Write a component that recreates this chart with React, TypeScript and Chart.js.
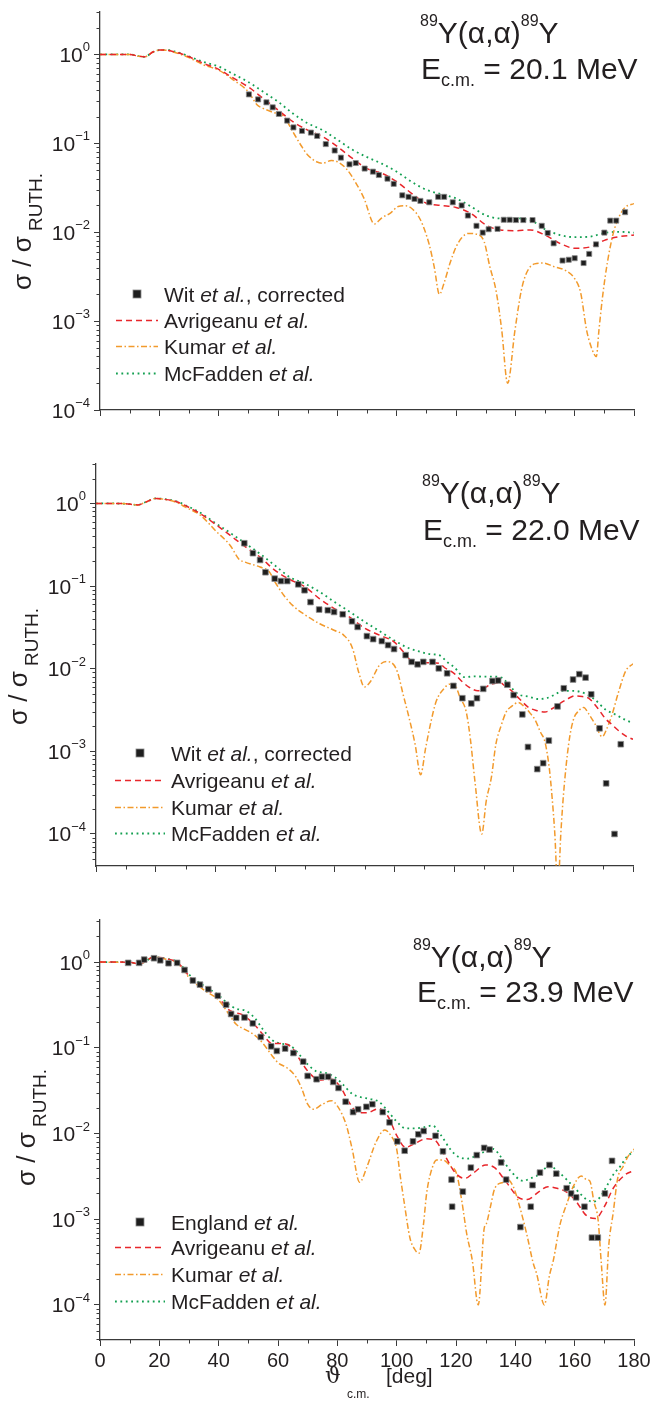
import React, { useEffect, useRef } from 'react';
import { Chart, registerables } from 'chart.js';

Chart.register(...registerables);

const FONT = '"Liberation Sans", Arial, Helvetica, "DejaVu Sans", sans-serif';
const INK = '#231f20';
const AXIS = '#3a3a3a';
const RED = '#e8262b';
const ORANGE = '#f29a2c';
const GREEN = '#14a052';

// ---------------- Panel 1 : E(c.m.) = 20.1 MeV ----------------
const p1ExpAngles = [50.2, 53.3, 56.1, 58.2, 60.3, 63.1, 65.2, 68.1, 71.1, 73.2,
  76.1, 79.1, 81.2, 84.1, 86.2, 89.2, 92.0, 94.0, 96.9, 99.0,
  101.9, 104.0, 106.0, 108.0, 111.0, 114.0, 116.0, 118.9, 121.9, 124.0,
  126.9, 129.0, 131.0, 134.0, 136.1, 138.1, 140.2, 142.7, 145.8, 148.9,
  150.9, 152.9, 155.9, 158.0, 160.0, 163.0, 164.9, 167.2, 170.0, 172.0,
  174.0, 177.0];
const p1ExpValues = [0.355, 0.312, 0.289, 0.254, 0.214, 0.180, 0.151, 0.138, 0.132, 0.121,
  0.098, 0.083, 0.069, 0.058, 0.060, 0.052, 0.048, 0.044, 0.040, 0.035,
  0.026, 0.025, 0.0237, 0.0225, 0.0217, 0.025, 0.025, 0.0217, 0.020, 0.0154,
  0.0118, 0.0099, 0.0108, 0.0109, 0.0138, 0.0138, 0.0137, 0.0137, 0.0137, 0.0118,
  0.0098, 0.0075, 0.0048, 0.0049, 0.0051, 0.0045, 0.0057, 0.0073, 0.0099, 0.0135,
  0.0135, 0.0168];
const p1CurveAngles = [0, 5, 10, 13, 15, 18, 20, 23, 25, 28,
  30, 35, 40, 45, 50, 55, 60, 65, 70, 75,
  80, 85, 90, 95, 100, 105, 110, 115, 120, 125,
  130, 135, 140, 145, 150, 155, 160, 165, 170, 175,
  180];
const p1AvrValues = [1, 1, 1, 0.955, 0.94, 1.07, 1.12, 1.11, 1.07, 1.0,
  0.94, 0.79, 0.68, 0.54, 0.43, 0.32, 0.237, 0.175, 0.141, 0.119,
  0.092, 0.068, 0.052, 0.046, 0.037, 0.0274, 0.0212, 0.020, 0.019, 0.0163,
  0.0121, 0.0106, 0.0104, 0.0106, 0.0093, 0.0075, 0.0066, 0.0068, 0.0081, 0.0089,
  0.0093];
const p1McfValues = [1, 1, 1, 0.955, 0.94, 1.07, 1.12, 1.12, 1.08, 1.01,
  0.95, 0.82, 0.73, 0.60, 0.49, 0.38, 0.294, 0.217, 0.168, 0.141,
  0.110, 0.085, 0.070, 0.059, 0.048, 0.037, 0.030, 0.0268, 0.024, 0.0195,
  0.0155, 0.0143, 0.0143, 0.0137, 0.0108, 0.0093, 0.0088, 0.0089, 0.0098, 0.0101,
  0.0099];
const p1KumAngles = [0, 5, 10, 13, 15, 18, 20, 23, 25, 28,
  30, 35, 40, 45, 50, 53, 55, 58, 62, 65,
  68, 70, 73, 75, 78, 80, 83, 86, 89, 92.5,
  95, 98, 100.5, 103, 105, 108, 111, 112.7, 114.4, 116,
  118, 120, 122, 124.1, 127, 129.5, 131.4, 133.5, 135.4, 137.4,
  139.9, 142, 143.8, 146.5, 149.4, 153, 157, 160, 162, 164,
  165.5, 167.3, 168.2, 169.5, 171, 173, 175, 177, 180];
const p1KumValues = [1, 1, 1, 0.955, 0.94, 1.07, 1.12, 1.11, 1.06, 0.98,
  0.92, 0.76, 0.667, 0.515, 0.38, 0.27, 0.247, 0.225, 0.20, 0.135,
  0.092, 0.074, 0.062, 0.0596, 0.064, 0.062, 0.052, 0.037, 0.024, 0.0124,
  0.0145, 0.0165, 0.0195, 0.0198, 0.0186, 0.0138, 0.0072, 0.0040, 0.0020, 0.0027,
  0.0045, 0.0068, 0.0087, 0.0097, 0.0095, 0.0078, 0.0041, 0.0022, 0.0008, 0.0002,
  0.0008, 0.0022, 0.0035, 0.0044, 0.0045, 0.0041, 0.0037, 0.0030, 0.0021, 0.0008,
  0.00052, 0.0004, 0.0008, 0.002, 0.0045, 0.0097, 0.015, 0.019, 0.021];

// ---------------- Panel 2 : E(c.m.) = 22.0 MeV ----------------
const p2ExpAngles = [49.7, 52.6, 55.0, 56.8, 59.9, 62.0, 64.1, 67.8, 69.9, 71.9,
  74.8, 77.7, 79.8, 82.7, 85.8, 87.7, 90.8, 92.9, 95.8, 97.9,
  99.9, 103.8, 105.8, 107.8, 109.7, 112.8, 114.9, 117.7, 119.8, 122.8,
  125.8, 127.7, 129.8, 132.9, 134.8, 137.9, 140.0, 142.9, 144.8, 147.9,
  149.9, 151.8, 154.7, 156.8, 159.9, 162.0, 164.1, 166.0, 168.8, 171.0,
  173.8, 175.9];
const p2ExpValues = [0.33, 0.25, 0.207, 0.147, 0.123, 0.115, 0.115, 0.105, 0.089, 0.064,
  0.052, 0.051, 0.0486, 0.0456, 0.0375, 0.032, 0.0248, 0.0228, 0.0216, 0.0193,
  0.0173, 0.0146, 0.0121, 0.0113, 0.0121, 0.0121, 0.0101, 0.0088, 0.0062, 0.0044,
  0.0038, 0.0044, 0.0057, 0.0071, 0.0072, 0.0064, 0.0048, 0.0028, 0.00113, 0.00061,
  0.00072, 0.00135, 0.0035, 0.0058, 0.0074, 0.0086, 0.0078, 0.0049, 0.0019, 0.00041,
  0.0001, 0.00122];
const p2AvrAngles = [0, 5, 10, 14, 17, 20, 23, 27, 30, 35,
  40, 45, 50, 55, 60, 65, 70, 75, 80, 85,
  90, 95, 100, 103.4, 106.7, 110, 112.3, 115, 117, 120,
  122.5, 125, 128, 130, 132.6, 135.4, 137, 139.3, 142, 145,
  148, 150.5, 153, 155, 158, 160.6, 163, 165.1, 168, 170.7,
  173, 175, 178, 180];
const p2AvrValues = [1, 1, 0.99, 0.96, 1.05, 1.15, 1.12, 1.05, 0.94, 0.75,
  0.56, 0.41, 0.30, 0.224, 0.155, 0.12, 0.098, 0.070, 0.053, 0.042,
  0.031, 0.0255, 0.021, 0.0155, 0.0118, 0.0118, 0.0118, 0.0116, 0.0102, 0.0088,
  0.0071, 0.0060, 0.0054, 0.0058, 0.0065, 0.0068, 0.0062, 0.0054, 0.0043, 0.0034,
  0.0031, 0.0030, 0.0033, 0.0037, 0.0043, 0.0047, 0.0046, 0.0044, 0.0034, 0.0025,
  0.0021, 0.0018, 0.0015, 0.0014];
const p2McfAngles = [0, 5, 10, 14, 17, 20, 23, 27, 30, 35,
  40, 45, 50, 55, 60, 65, 70, 75, 80, 85,
  90, 94.4, 100, 105, 108, 112, 115, 118, 120, 123.6,
  127, 130, 133.7, 136, 139, 141.6, 145, 148.3, 151, 154,
  156.2, 160, 164, 167, 170.8, 174, 177.5, 180];
const p2McfValues = [1, 1, 0.99, 0.96, 1.05, 1.15, 1.13, 1.06, 0.95, 0.77,
  0.58, 0.44, 0.33, 0.245, 0.177, 0.128, 0.107, 0.085, 0.064, 0.049,
  0.037, 0.0295, 0.022, 0.0176, 0.0163, 0.015, 0.0146, 0.0118, 0.0105, 0.0079,
  0.0081, 0.0080, 0.0080, 0.0078, 0.0060, 0.0049, 0.0046, 0.0043, 0.0044, 0.0049,
  0.0054, 0.0054, 0.0050, 0.0043, 0.0032, 0.0028, 0.0024, 0.0022];
const p2KumAngles = [0, 5, 10, 14, 17, 20, 23, 27, 30, 35,
  40, 45, 48, 50, 55, 58, 60, 63, 66, 70,
  75, 80, 83, 86, 88, 90, 92, 95, 97.5, 99,
  101, 103, 105, 107, 108.8, 110.5, 112.3, 114, 116.9, 118.5,
  120.2, 122, 124.1, 125.5, 127, 129.3, 130.8, 132.6, 134, 135.9,
  137.5, 139.3, 141.5, 143.8, 145.5, 147.2, 149, 150.5, 152, 152.8,
  153.8, 154.8, 155.8, 156.7, 158.4, 160, 161.8, 163.5, 165, 167.4,
  169.7, 171, 173, 175, 177.5, 180];
const p2KumValues = [1, 1, 0.99, 0.96, 1.05, 1.15, 1.12, 1.03, 0.9, 0.72,
  0.47, 0.31, 0.21, 0.195, 0.17, 0.15, 0.112, 0.077, 0.058, 0.045,
  0.035, 0.029, 0.0255, 0.0176, 0.0092, 0.0060, 0.0070, 0.011, 0.0122, 0.0119,
  0.0092, 0.0048, 0.0025, 0.0012, 0.00052, 0.0011, 0.0023, 0.0040, 0.0059, 0.0065,
  0.0064, 0.0045, 0.0030, 0.0014, 0.00044, 0.0001, 0.00025, 0.0005, 0.0012, 0.0021,
  0.0030, 0.0035, 0.0039, 0.0034, 0.0029, 0.0024, 0.0017, 0.0013, 0.0006, 0.0003,
  0.0001, 0.00002, 0.0001, 0.0003, 0.0012, 0.0024, 0.0031, 0.0034, 0.0029, 0.0021,
  0.0015, 0.0018, 0.0028, 0.0050, 0.0093, 0.0115];

// ---------------- Panel 3 : E(c.m.) = 23.9 MeV ----------------
const p3ExpAngles = [9.5, 13.2, 14.9, 18.2, 20.3, 23.1, 26.0, 28.5, 31.3, 33.7,
  36.5, 39.7, 42.5, 44.2, 45.9, 48.7, 51.5, 54.2, 57.7, 59.6,
  62.4, 65.2, 68.5, 70.0, 73.0, 74.8, 76.9, 78.6, 80.4, 82.8,
  85.3, 87.0, 89.8, 91.8, 95.3, 97.6, 100.2, 102.7, 105.5, 107.3,
  109.1, 113.1, 115.6, 118.5, 118.7, 122.3, 125.0, 127.0, 129.5, 131.3,
  135.2, 136.9, 141.7, 145.2, 145.8, 148.3, 151.5, 153.8, 157.3, 158.8,
  160.5, 163.3, 165.8, 167.8, 170.2, 172.6];
const p3ExpValues = [0.98, 0.98, 1.07, 1.11, 1.05, 0.97, 0.98, 0.81, 0.61, 0.546,
  0.484, 0.405, 0.318, 0.248, 0.224, 0.226, 0.193, 0.134, 0.104, 0.092,
  0.098, 0.087, 0.069, 0.047, 0.043, 0.046, 0.046, 0.040, 0.034, 0.0235,
  0.0178, 0.0192, 0.0205, 0.022, 0.0178, 0.0135, 0.0081, 0.0063, 0.0081, 0.0098,
  0.0107, 0.0094, 0.0062, 0.0029, 0.0014, 0.0021, 0.0040, 0.0056, 0.0068, 0.0065,
  0.0046, 0.0029, 0.00081, 0.0014, 0.0025, 0.0035, 0.0043, 0.0034, 0.0023, 0.0020,
  0.0018, 0.0014, 0.00061, 0.00061, 0.0020, 0.0048];
const p3AvrAngles = [0, 5, 10, 13, 15, 18, 20, 22, 26, 28,
  30, 35, 40, 43, 45, 48, 52, 55, 58, 62,
  65, 68, 71, 74, 78, 81, 84, 87, 90, 94,
  97, 100, 103, 106, 110, 113, 116, 120, 123, 126,
  130, 133, 137, 141, 144, 148, 151, 154, 157, 160,
  164, 167, 170, 173, 177, 180];
const p3AvrValues = [1, 1, 0.995, 0.955, 1.0, 1.15, 1.13, 1.10, 1.0, 0.85,
  0.69, 0.50, 0.387, 0.285, 0.26, 0.243, 0.187, 0.142, 0.112, 0.112,
  0.098, 0.067, 0.049, 0.042, 0.043, 0.035, 0.023, 0.0175, 0.0175, 0.0195,
  0.016, 0.0095, 0.0069, 0.0076, 0.0087, 0.0083, 0.0057, 0.0034, 0.0030, 0.0035,
  0.0043, 0.0040, 0.0027, 0.0018, 0.0017, 0.0021, 0.0024, 0.0023, 0.0021, 0.0017,
  0.0011, 0.00102, 0.0014, 0.0023, 0.0033, 0.0037];
const p3McfAngles = [0, 5, 10, 13, 15, 18, 20, 22, 26, 28,
  30, 35, 40, 43, 46, 49, 52, 55, 58, 61,
  64, 67, 70, 73, 76, 79, 82, 85, 88, 91,
  94, 97, 100, 103, 106, 109, 112, 115, 118, 121,
  124, 128, 132.6, 135, 138.3, 142.7, 145, 147.2, 151.7, 154,
  157.3, 161.8, 164, 166.3, 168.5, 171, 173, 175.5, 177.5, 180];
const p3McfValues = [1, 1, 0.995, 0.96, 1.0, 1.15, 1.13, 1.10, 1.01, 0.87,
  0.72, 0.53, 0.41, 0.33, 0.285, 0.272, 0.226, 0.163, 0.123, 0.112,
  0.107, 0.085, 0.064, 0.053, 0.051, 0.046, 0.037, 0.029, 0.0265, 0.0253,
  0.0235, 0.0183, 0.0138, 0.0115, 0.0115, 0.0118, 0.0124, 0.0095, 0.0066, 0.0053,
  0.0051, 0.0058, 0.0066, 0.0054, 0.0037, 0.0028, 0.0030, 0.0032, 0.0042, 0.0037,
  0.0029, 0.0020, 0.0017, 0.0016, 0.0018, 0.0025, 0.0033, 0.0042, 0.0053, 0.0062];
const p3KumAngles = [0, 10, 13, 15, 18, 20, 22, 26, 28, 30,
  35, 40, 43, 46, 49, 52, 55, 58, 60, 63,
  66, 68, 70, 72, 75, 78, 80, 83, 85, 87.5,
  90, 93, 96, 98, 100, 101.1, 102.5, 104.5, 106, 107.5,
  109, 110.1, 111.5, 113.5, 115.7, 118, 120.2, 122, 123.6, 125.5,
  127.5, 129.5, 130.3, 131.5, 133.1, 135.9, 137.5, 139.3, 141, 143.8,
  146, 147.2, 149.8, 151.5, 152.8, 155, 157.3, 159.5, 162.2, 164,
  165.1, 166.5, 167.9, 169, 170.2, 171.5, 173, 174.5, 176.3, 178,
  180];
const p3KumValues = [1, 0.99, 0.955, 1.0, 1.15, 1.12, 1.09, 0.98, 0.82, 0.66,
  0.475, 0.36, 0.26, 0.187, 0.163, 0.142, 0.112, 0.081, 0.067, 0.0585,
  0.046, 0.0335, 0.022, 0.0192, 0.022, 0.0242, 0.021, 0.0126, 0.0066, 0.0027,
  0.0041, 0.0079, 0.011, 0.0095, 0.0066, 0.0034, 0.0016, 0.0006, 0.00045, 0.0004,
  0.00085, 0.002, 0.0035, 0.0049, 0.0049, 0.0042, 0.0034, 0.0016, 0.00068, 0.00033,
  0.0001, 0.00078, 0.0009, 0.00135, 0.0023, 0.0027, 0.0029, 0.0024, 0.0016, 0.00068,
  0.00031, 0.00023, 0.0001, 0.00022, 0.00033, 0.00085, 0.0015, 0.0024, 0.0032, 0.0029,
  0.0028, 0.0016, 0.00098, 0.0003, 0.0001, 0.0005, 0.0012, 0.003, 0.0041, 0.0054,
  0.0066];

// ---------------- labels & ticks ----------------
const energies = ['20.1', '22.0', '23.9'];
const expNames = ['Wit', 'Wit', 'England'];
const expSuffix = [', corrected', ', corrected', ''];
const modelNames = ['Avrigeanu', 'Kumar', 'McFadden'];
const xTickValues = [0, 20, 40, 60, 80, 100, 120, 140, 160, 180];
const xMinorTickValues = [10, 30, 50, 70, 90, 110, 130, 150, 170];
const yTickExponents = [0, -1, -2, -3, -4];

// ---------------- layout (page coordinates) ----------------
const LAYOUT = [
  { top: 0, height: 440, chartTop: 12, chartBottom: 410, left: 100, right: 634, yMin: 1e-4, yMax: 3,
    xLabels: false, xAxisH: 6, t1: [420, 43], t2: [421, 79], yTitle: [31, 290],
    legRows: [294, 320, 346, 373], legSym: 137, legLine: [116, 158], legText: 164, marker: 3.6 },
  { top: 440, height: 450, chartTop: 464, chartBottom: 866, left: 96, right: 633, yMin: 4.1e-5, yMax: 3,
    xLabels: false, xAxisH: 6, t1: [422, 503], t2: [423, 540], yTitle: [27, 725],
    legRows: [753, 780, 807, 833], legSym: 140, legLine: [115, 165], legText: 171, marker: 4 },
  { top: 890, height: 526, chartTop: 920, chartBottom: 1340, left: 100, right: 634, yMin: 3.9e-5, yMax: 3.1,
    xLabels: true, xAxisH: 40, t1: [413, 967], t2: [417, 1002], yTitle: [35, 1186],
    legRows: [1222, 1247, 1274, 1301], legSym: 140, legLine: [115, 165], legText: 171, marker: 4 },
];

const SERIES = [
  { exp: [p1ExpAngles, p1ExpValues], avr: [p1CurveAngles, p1AvrValues], kum: [p1KumAngles, p1KumValues], mcf: [p1CurveAngles, p1McfValues] },
  { exp: [p2ExpAngles, p2ExpValues], avr: [p2AvrAngles, p2AvrValues], kum: [p2KumAngles, p2KumValues], mcf: [p2McfAngles, p2McfValues] },
  { exp: [p3ExpAngles, p3ExpValues], avr: [p3AvrAngles, p3AvrValues], kum: [p3KumAngles, p3KumValues], mcf: [p3McfAngles, p3McfValues] },
];

const DASH_AVR = [6, 4];
const DASH_KUM = [6, 2.5, 1.5, 2.5];
const DASH_MCF = [1.8, 3.6];

function toPoints(xs: number[], ys: number[]) {
  return xs.map((x, i) => ({ x, y: ys[i] }));
}

type Part = { t: string; s: number; dy?: number; it?: boolean; fam?: string };

function setFont(ctx: CanvasRenderingContext2D, p: Part) {
  ctx.font = `${p.it ? 'italic ' : ''}${p.s}px ${p.fam || FONT}`;
}
function partsWidth(ctx: CanvasRenderingContext2D, parts: Part[]) {
  let w = 0;
  for (const p of parts) { setFont(ctx, p); w += ctx.measureText(p.t).width; }
  return w;
}
function drawParts(ctx: CanvasRenderingContext2D, x: number, y: number, parts: Part[]) {
  let cx = x;
  for (const p of parts) {
    setFont(ctx, p);
    ctx.fillText(p.t, cx, y + (p.dy || 0));
    cx += ctx.measureText(p.t).width;
  }
  return cx;
}

function makeDecor(i: number) {
  const L = LAYOUT[i];
  return {
    id: 'decor' + i,
    afterDraw(chart: any) {
      const ctx: CanvasRenderingContext2D = chart.ctx;
      const xs = chart.scales.x;
      const ys = chart.scales.y;
      const area = chart.chartArea;
      const oy = L.top;
      ctx.save();
      // minor ticks
      ctx.setLineDash([]);
      ctx.strokeStyle = AXIS;
      ctx.lineWidth = 1;
      ctx.beginPath();
      for (const a of xMinorTickValues) {
        const px = Math.round(xs.getPixelForValue(a)) + 0.5;
        ctx.moveTo(px, area.bottom);
        ctx.lineTo(px, area.bottom + 3.5);
      }
      const eMin = Math.floor(Math.log10(L.yMin));
      const eMax = Math.ceil(Math.log10(L.yMax));
      for (let e = eMin; e <= eMax; e++) {
        for (let m = 2; m <= 9; m++) {
          const v = m * Math.pow(10, e);
          if (v < L.yMin || v > L.yMax * 1.0001) continue;
          const py = Math.round(ys.getPixelForValue(v)) + 0.5;
          ctx.moveTo(area.left - 3.5, py);
          ctx.lineTo(area.left, py);
        }
      }
      ctx.stroke();

      ctx.fillStyle = INK;
      ctx.textAlign = 'left';
      ctx.textBaseline = 'alphabetic';

      // y tick labels 10^n
      for (const e of yTickExponents) {
        const v = Math.pow(10, e);
        if (v < L.yMin * 0.999 || v > L.yMax) continue;
        const py = ys.getPixelForValue(v);
        const parts: Part[] = [
          { t: '10', s: 21, dy: 7.5 },
          { t: e === 0 ? '0' : '\u2212' + String(-e), s: 13, dy: -3 },
        ];
        const w = partsWidth(ctx, parts);
        drawParts(ctx, area.left - 10 - w, py, parts);
      }

      // y axis title (rotated)
      ctx.save();
      ctx.translate(L.yTitle[0], L.yTitle[1] - oy);
      ctx.rotate(-Math.PI / 2);
      drawParts(ctx, 0, 0, [
        { t: '\u03c3 / \u03c3', s: 26 },
        { t: ' RUTH.', s: 19, dy: 10.5 },
      ]);
      ctx.restore();

      // panel title
      drawParts(ctx, L.t1[0], L.t1[1] - oy, [
        { t: '89', s: 16, dy: -17 },
        { t: 'Y(\u03b1,\u03b1)', s: 30 },
        { t: '89', s: 16, dy: -17 },
        { t: 'Y', s: 30 },
      ]);
      drawParts(ctx, L.t2[0], L.t2[1] - oy, [
        { t: 'E', s: 30 },
        { t: 'c.m.', s: 18, dy: 7 },
        { t: ' = ' + energies[i] + ' MeV', s: 30 },
      ]);

      // legend
      const rows = L.legRows.map((r) => r - oy);
      ctx.fillStyle = '#1e1e1e';
      ctx.fillRect(L.legSym - 4, rows[0] - 4, 8, 8);
      ctx.strokeStyle = '#8a8a8a';
      ctx.lineWidth = 0.8;
      ctx.strokeRect(L.legSym - 4, rows[0] - 4, 8, 8);
      const lineStyles = [
        { c: RED, d: DASH_AVR, w: 1.5 },
        { c: ORANGE, d: DASH_KUM, w: 1.5 },
        { c: GREEN, d: DASH_MCF, w: 1.8 },
      ];
      lineStyles.forEach((st, k) => {
        ctx.beginPath();
        ctx.setLineDash(st.d);
        ctx.strokeStyle = st.c;
        ctx.lineWidth = st.w;
        ctx.moveTo(L.legLine[0], rows[k + 1] + 0.5);
        ctx.lineTo(L.legLine[1], rows[k + 1] + 0.5);
        ctx.stroke();
      });
      ctx.setLineDash([]);
      ctx.fillStyle = INK;
      const expParts: Part[] = [{ t: expNames[i] + ' ', s: 21 }, { t: 'et al.', s: 21, it: true }];
      if (expSuffix[i]) expParts.push({ t: expSuffix[i], s: 21 });
      drawParts(ctx, L.legText, rows[0] + 7.5, expParts);
      modelNames.forEach((n, k) => {
        drawParts(ctx, L.legText, rows[k + 1] + 7.5, [{ t: n + ' ', s: 21 }, { t: 'et al.', s: 21, it: true }]);
      });

      // x axis title (bottom panel)
      if (L.xLabels) {
        drawParts(ctx, 325, 1383 - oy, [{ t: '\u03d1', s: 22, fam: '"DejaVu Serif", "DejaVu Sans", serif' }]);
        drawParts(ctx, 347, 1398 - oy, [{ t: 'c.m.', s: 12 }]);
        drawParts(ctx, 386, 1383 - oy, [{ t: '[deg]', s: 21 }]);
      }
      ctx.restore();
    },
  };
}

function buildConfig(i: number): any {
  const L = LAYOUT[i];
  const S = SERIES[i];
  const lineBase = { pointRadius: 0, pointHoverRadius: 0, fill: false, cubicInterpolationMode: 'monotone', borderCapStyle: 'butt' };
  return {
    type: 'line',
    data: {
      datasets: [
        {
          label: expNames[i] + ' et al.' + expSuffix[i],
          data: toPoints(S.exp[0], S.exp[1]),
          showLine: false,
          pointStyle: 'rect',
          pointRadius: L.marker,
          pointHoverRadius: L.marker,
          pointBackgroundColor: '#1e1e1e',
          pointBorderColor: '#8a8a8a',
          pointBorderWidth: 0.8,
        },
        { ...lineBase, label: 'Avrigeanu et al.', data: toPoints(S.avr[0], S.avr[1]), borderColor: RED, borderWidth: 1.5, borderDash: DASH_AVR },
        { ...lineBase, label: 'Kumar et al.', data: toPoints(S.kum[0], S.kum[1]), borderColor: ORANGE, borderWidth: 1.5, borderDash: DASH_KUM },
        { ...lineBase, label: 'McFadden et al.', data: toPoints(S.mcf[0], S.mcf[1]), borderColor: GREEN, borderWidth: 1.8, borderDash: DASH_MCF },
      ],
    },
    options: {
      responsive: false,
      animation: false,
      devicePixelRatio: 1,
      events: [],
      layout: {
        padding: {
          left: L.left - 6,
          right: 652 - L.right,
          top: L.chartTop - L.top,
          bottom: L.top + L.height - L.chartBottom - L.xAxisH,
        },
      },
      plugins: { legend: { display: false }, tooltip: { enabled: false }, title: { display: false } },
      scales: {
        x: {
          type: 'linear',
          min: 0,
          max: 180,
          afterBuildTicks: (s: any) => { s.ticks = xTickValues.map((v) => ({ value: v })); },
          ticks: {
            display: L.xLabels,
            autoSkip: false,
            maxRotation: 0,
            padding: 3,
            color: INK,
            font: { family: FONT, size: 20 },
          },
          grid: { drawOnChartArea: false, drawTicks: true, tickLength: 6, tickColor: AXIS, tickWidth: 1 },
          border: { display: true, color: AXIS, width: 1.3 },
          afterFit: (s: any) => { s.height = L.xAxisH; s.paddingLeft = 0; s.paddingRight = 0; },
        },
        y: {
          type: 'logarithmic',
          min: L.yMin,
          max: L.yMax,
          afterBuildTicks: (s: any) => {
            s.ticks = yTickExponents.map((e) => Math.pow(10, e)).filter((v) => v >= L.yMin * 0.999 && v <= L.yMax).map((v) => ({ value: v, major: true }));
          },
          ticks: { display: false },
          grid: { drawOnChartArea: false, drawTicks: true, tickLength: 6, tickColor: AXIS, tickWidth: 1 },
          border: { display: true, color: AXIS, width: 1.3 },
          afterFit: (s: any) => { s.width = 6; s.paddingTop = 0; s.paddingBottom = 0; },
        },
      },
    },
    plugins: [makeDecor(i)],
  };
}

export default function App() {
  const r1 = useRef<HTMLCanvasElement | null>(null);
  const r2 = useRef<HTMLCanvasElement | null>(null);
  const r3 = useRef<HTMLCanvasElement | null>(null);
  const refs = [r1, r2, r3];

  useEffect(() => {
    const charts = [r1, r2, r3].map((r, i) => new Chart(r.current as HTMLCanvasElement, buildConfig(i)));
    return () => charts.forEach((c) => c.destroy());
  }, []);

  return (
    <div style={{ position: 'absolute', left: 0, top: 0, width: 652, height: 1416, background: '#ffffff', overflow: 'hidden' }}>
      {LAYOUT.map((L, i) => (
        <canvas
          key={i}
          ref={refs[i]}
          width={652}
          height={L.height}
          style={{ position: 'absolute', left: 0, top: L.top, width: 652, height: L.height, display: 'block' }}
        />
      ))}
    </div>
  );
}
